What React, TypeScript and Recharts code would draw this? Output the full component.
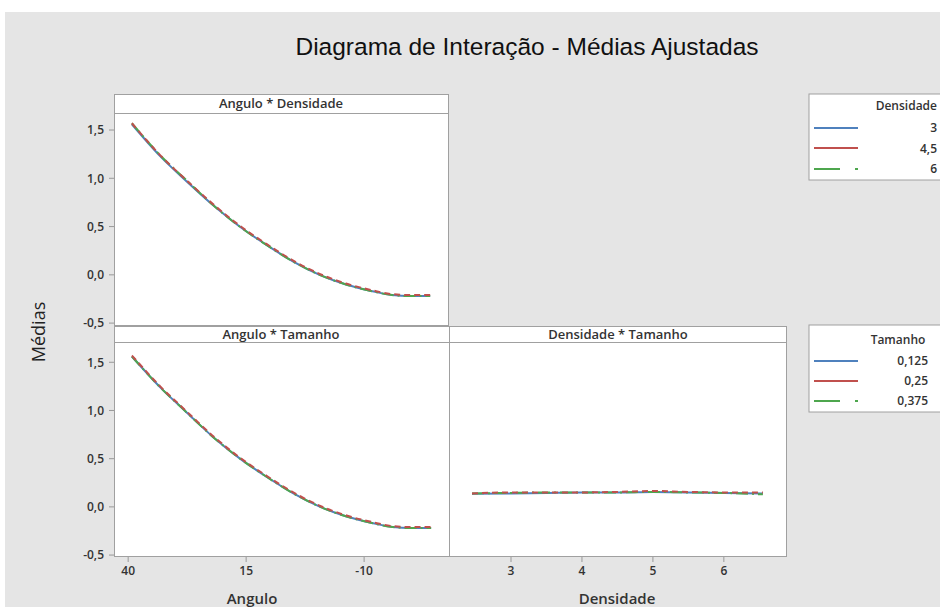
import { LineChart, Line, XAxis, YAxis } from 'recharts'

// Angulo panels (x values on a reversed axis)
const angulo = [39.2, 33.2, 27.6, 21.9, 16.3, 10.6, 5.0, -0.7, -6.3, -11.9, -16.1, -20.0, -24.2]
const densidade3 = [1.56, 1.23, 0.97, 0.72, 0.5, 0.31, 0.14, 0.0, -0.1, -0.17, -0.21, -0.22, -0.22]
const densidade45 = [1.57, 1.24, 0.98, 0.73, 0.51, 0.32, 0.15, 0.01, -0.09, -0.16, -0.2, -0.21, -0.21]
const densidade6 = [1.57, 1.24, 0.98, 0.72, 0.5, 0.31, 0.14, 0.0, -0.1, -0.17, -0.21, -0.22, -0.22]

const tamanho125 = [1.56, 1.24, 0.98, 0.72, 0.5, 0.31, 0.14, 0.0, -0.1, -0.17, -0.21, -0.22, -0.22]
const tamanho25 = [1.57, 1.25, 0.99, 0.73, 0.51, 0.32, 0.15, 0.01, -0.09, -0.16, -0.2, -0.21, -0.21]
const tamanho375 = [1.56, 1.24, 0.98, 0.72, 0.5, 0.31, 0.14, 0.0, -0.1, -0.17, -0.21, -0.22, -0.22]

// Densidade * Tamanho panel
const densidade = [2.45, 3, 3.5, 4, 4.5, 5, 5.5, 6, 6.55]
const dtTamanho125 = [0.135, 0.14, 0.145, 0.15, 0.15, 0.155, 0.15, 0.145, 0.14]
const dtTamanho25 = [0.14, 0.15, 0.15, 0.15, 0.155, 0.165, 0.155, 0.15, 0.15]
const dtTamanho375 = [0.14, 0.145, 0.15, 0.15, 0.15, 0.155, 0.15, 0.145, 0.13]

const yTicks = [-0.5, 0, 0.5, 1, 1.5]
const anguloTicks = [40, 15, -10]
const densidadeTicks = [3, 4, 5, 6]
const densidadeLevels = ['3', '4,5', '6']
const tamanhoLevels = ['0,125', '0,25', '0,375']

const BLUE = '#4f81bd'
const RED = '#c0504d'
const GREEN = '#4ea64e'
const FONT = '"Open Sans", "Noto Sans", sans-serif'
const TXT = '#333'
const FRAME = '#a0a0a0'

const angDensData = angulo.map((x, i) => ({ x, a: densidade3[i], b: densidade45[i], c: densidade6[i] }))
const angTamData = angulo.map((x, i) => ({ x, a: tamanho125[i], b: tamanho25[i], c: tamanho375[i] }))
const densTamData = densidade.map((x, i) => ({ x, a: dtTamanho125[i], b: dtTamanho25[i], c: dtTamanho375[i] }))

const fmt = (v: number) => v.toFixed(1).replace('.', ',')
const tickStyle = { fontSize: 12, fill: TXT, fontFamily: FONT, fontWeight: 600 }

const series = () => [
  <Line key="a" dataKey="a" type="monotone" stroke={BLUE} strokeWidth={2} dot={false} isAnimationActive={false} />,
  <Line key="c" dataKey="c" type="monotone" stroke={GREEN} strokeWidth={2} strokeDasharray="12 4 2 4" dot={false} isAnimationActive={false} />,
  <Line key="b" dataKey="b" type="monotone" stroke={RED} strokeWidth={2} strokeDasharray="6 4" dot={false} isAnimationActive={false} />,
]

const abs = (left: number, top: number, extra: any = {}) => ({ position: 'absolute' as const, left, top, ...extra })

export default function App() {
  return (
    <div style={abs(0, 0, { width: 940, height: 607, overflow: 'hidden', background: '#fff' })}>
      <div style={abs(5, 12, { width: 935, height: 595, background: '#e5e5e5' })} />

      {/* panel frames */}
      <div style={abs(114, 94, { width: 335, height: 232, background: '#fff', border: `1px solid ${FRAME}`, boxSizing: 'border-box' })} />
      <div style={abs(114, 94, { width: 335, height: 20, borderBottom: `1px solid ${FRAME}`, boxSizing: 'border-box' })} />
      <div style={abs(114, 326, { width: 673, height: 231, background: '#fff', border: `1px solid ${FRAME}`, boxSizing: 'border-box' })} />
      <div style={abs(114, 326, { width: 673, height: 17, borderBottom: `1px solid ${FRAME}`, boxSizing: 'border-box' })} />
      <div style={abs(449, 326, { width: 1, height: 231, background: FRAME })} />

      {/* Angulo * Densidade */}
      <div style={abs(54, 114)}>
        <LineChart width={395} height={224} data={angDensData} margin={{ top: 0, right: 0, bottom: 12, left: 0 }}>
          <XAxis type="number" dataKey="x" domain={[-28.2, 43]} reversed hide allowDataOverflow />
          <YAxis type="number" width={60} domain={[-0.53, 1.666]} ticks={yTicks} tickFormatter={fmt} allowDataOverflow interval={0}
            axisLine={false} tickSize={5} tickMargin={5} tickLine={{ stroke: '#999' }} tick={tickStyle} />
          {series()}
        </LineChart>
      </div>

      {/* Angulo * Tamanho */}
      <div style={abs(54, 343)}>
        <LineChart width={396} height={259} data={angTamData} margin={{ top: 0, right: 0, bottom: 0, left: 0 }}>
          <XAxis type="number" dataKey="x" domain={[-28.2, 43]} reversed allowDataOverflow height={45} ticks={anguloTicks} interval={0}
            axisLine={false} tickSize={5} tickMargin={4} tickLine={{ stroke: '#999' }} tick={tickStyle} />
          <YAxis type="number" width={60} domain={[-0.52, 1.7]} ticks={yTicks} tickFormatter={fmt} allowDataOverflow interval={0}
            axisLine={false} tickSize={5} tickMargin={5} tickLine={{ stroke: '#999' }} tick={tickStyle} />
          {series()}
        </LineChart>
      </div>

      {/* Densidade * Tamanho */}
      <div style={abs(450, 343)}>
        <LineChart width={337} height={259} data={densTamData} margin={{ top: 0, right: 0, bottom: 0, left: 0 }}>
          <XAxis type="number" dataKey="x" domain={[2.14, 6.89]} allowDataOverflow height={45} ticks={densidadeTicks} interval={0}
            axisLine={false} tickSize={5} tickMargin={4} tickLine={{ stroke: '#999' }} tick={tickStyle} />
          <YAxis type="number" hide domain={[-0.52, 1.7]} allowDataOverflow />
          {series()}
        </LineChart>
      </div>

      {/* texts and legends */}
      <svg width={940} height={607} style={abs(0, 0, { pointerEvents: 'none' })} fontFamily={FONT}>
        <text x={527} y={55} textAnchor="middle" fontSize={24.5} fill="#111" fontFamily='"Liberation Sans", Arial, sans-serif'>
          Diagrama de Interação - Médias Ajustadas
        </text>
        <text x={281} y={108} textAnchor="middle" fontSize={13} fontWeight={600} fill={TXT}>Angulo * Densidade</text>
        <text x={281} y={339} textAnchor="middle" fontSize={13} fontWeight={600} fill={TXT}>Angulo * Tamanho</text>
        <text x={618} y={339} textAnchor="middle" fontSize={13} fontWeight={600} fill={TXT}>Densidade * Tamanho</text>
        <text x={252} y={604} textAnchor="middle" fontSize={15} fontWeight={600} fill={TXT}>Angulo</text>
        <text x={617} y={604} textAnchor="middle" fontSize={15} fontWeight={600} fill={TXT}>Densidade</text>
        <text x={45} y={332} textAnchor="middle" fontSize={18} fontWeight={500} fill="#222" transform="rotate(-90 45 332)">Médias</text>

        <rect x={809} y={94} width={140} height={86} fill="#fff" stroke={FRAME} />
        <text x={937} y={110} textAnchor="end" fontSize={12} fontWeight={600} fill={TXT}>Densidade</text>
        {densidadeLevels.map((lv, i) => (
          <text key={lv} x={937} y={132 + i * 20.5} textAnchor="end" fontSize={12} fontWeight={600} fill={TXT}>{lv}</text>
        ))}
        <line x1={814} x2={858} y1={128} y2={128} stroke={BLUE} strokeWidth={2} />
        <line x1={814} x2={858} y1={148} y2={148} stroke={RED} strokeWidth={2} />
        <line x1={814} x2={858} y1={169} y2={169} stroke={GREEN} strokeWidth={2} strokeDasharray="26 15 3 10" />

        <rect x={809} y={325} width={140} height={87} fill="#fff" stroke={FRAME} />
        <text x={898} y={344} textAnchor="middle" fontSize={12} fontWeight={600} fill={TXT}>Tamanho</text>
        {tamanhoLevels.map((lv, i) => (
          <text key={lv} x={928} y={365 + i * 20} textAnchor="end" fontSize={12} fontWeight={600} fill={TXT}>{lv}</text>
        ))}
        <line x1={814} x2={858} y1={361} y2={361} stroke={BLUE} strokeWidth={2} />
        <line x1={814} x2={858} y1={381} y2={381} stroke={RED} strokeWidth={2} />
        <line x1={814} x2={858} y1={401} y2={401} stroke={GREEN} strokeWidth={2} strokeDasharray="26 15 3 10" />
      </svg>
    </div>
  )
}
